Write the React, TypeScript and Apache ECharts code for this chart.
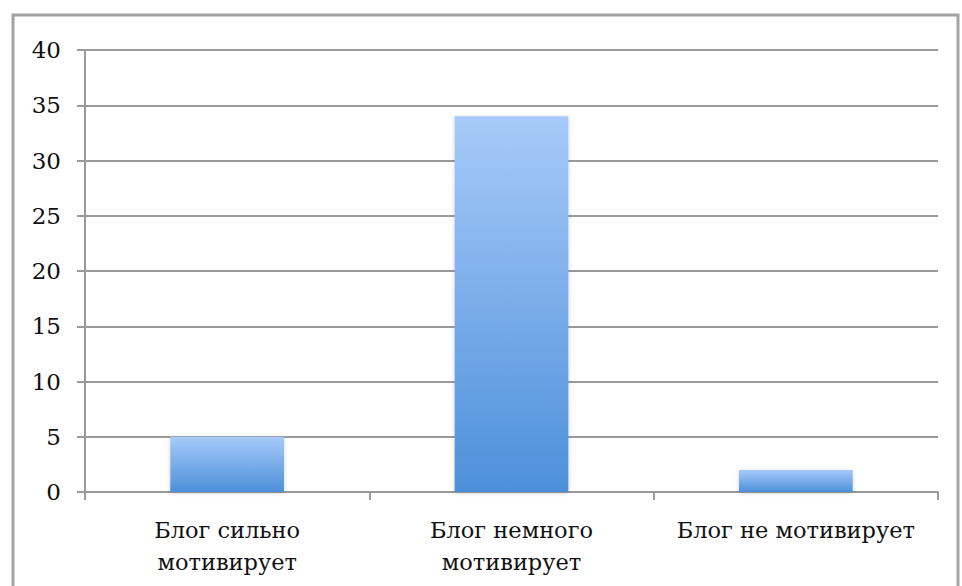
import React, { useEffect, useRef } from "react";
import * as echarts from "echarts";

const categories = ["Блог сильно\nмотивирует", "Блог немного\nмотивирует", "Блог не мотивирует"];
const values = [5, 34, 2];
const yTicks = { min: 0, max: 40, interval: 5 };

export default function App() {
  const ref = useRef<HTMLDivElement>(null);
  useEffect(() => {
    const chart = echarts.init(ref.current!, null, { renderer: "svg" });
    const font = "DejaVu Serif";
    chart.setOption({
      animation: false,
      backgroundColor: "#ffffff",
      graphic: [
        {
          type: "rect",
          shape: { x: 13, y: 15, width: 945, height: 620 },
          style: { fill: "none", stroke: "#a3a3a3", lineWidth: 3 },
          z: 0,
        },
      ],
      grid: { left: 85, right: 24, top: 50, bottom: 94, containLabel: false },
      xAxis: {
        type: "category",
        data: categories,
        axisLine: { lineStyle: { color: "#9a9a9a", width: 2 } },
        axisTick: { show: true, length: 8, lineStyle: { color: "#9a9a9a", width: 2 } },
        axisLabel: {
          color: "#111",
          fontFamily: font,
          fontSize: 22.5,
          lineHeight: 32,
          margin: 22,
          interval: 0,
        },
      },
      yAxis: {
        type: "value",
        min: yTicks.min,
        max: yTicks.max,
        interval: yTicks.interval,
        axisLine: { show: true, lineStyle: { color: "#9a9a9a", width: 2 } },
        axisTick: { show: true, length: 8, lineStyle: { color: "#9a9a9a", width: 2 } },
        splitLine: { lineStyle: { color: "#9a9a9a", width: 2 } },
        axisLabel: { color: "#111", fontFamily: font, fontSize: 23, margin: 24 },
      },
      series: [
        {
          type: "bar",
          data: values,
          barWidth: "40%",
          itemStyle: {
            color: new echarts.graphic.LinearGradient(0, 0, 0, 1, [
              { offset: 0, color: "#a7caf9" },
              { offset: 1, color: "#4d90da" },
            ]),
            shadowColor: "rgba(0,0,0,0.18)",
            shadowBlur: 4,
            shadowOffsetY: 1,
          },
        },
      ],
    });
    return () => chart.dispose();
  }, []);
  return <div ref={ref} style={{ width: 962, height: 586, position: "absolute", left: 0, top: 0 }} />;
}
